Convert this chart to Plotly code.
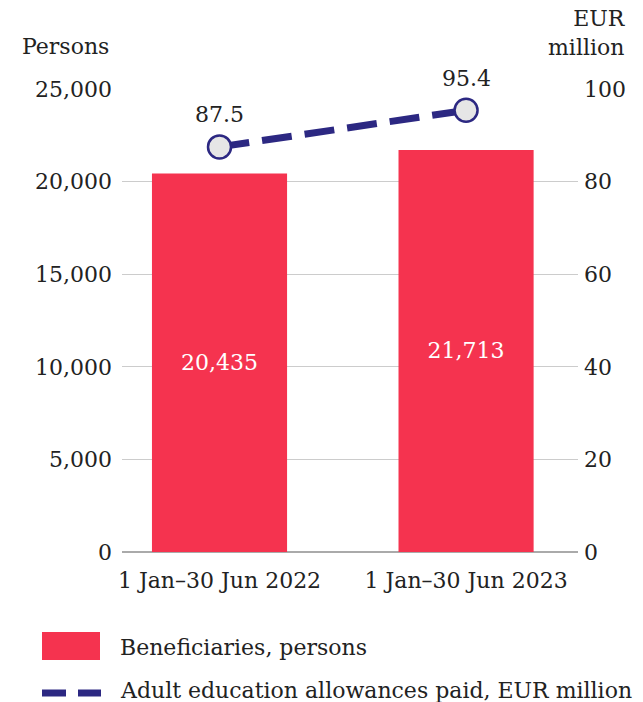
import plotly.graph_objects as go

# Data
periods = ["1 Jan\u201330 Jun 2022", "1 Jan\u201330 Jun 2023"]
beneficiaries = [20435, 21713]
allowances_eur_m = [87.5, 95.4]

bar_name = "Beneficiaries, persons"
line_name = "Adult education allowances paid, EUR million"

RED = "#F5334F"
NAVY = "#2C2882"
TEXT = "#222222"
FONT = "Roboto Slab, DejaVu Serif, serif"
FS = 22

W, H = 643, 702
L, R, T, B = 122, 65, 89, 150
pw, ph = W - L - R, H - T - B


def px_x(x):
    return (x - L) / pw


def px_y(y):
    return (H - B - y) / ph


fig = go.Figure()

fig.add_trace(go.Bar(
    x=periods, y=beneficiaries, name=bar_name,
    marker=dict(color=RED, line=dict(width=0)),
    width=0.548,
    text=[f"{v:,}" for v in beneficiaries],
    textposition="inside", insidetextanchor="middle",
    textfont=dict(color="white", size=FS, family=FONT),
    showlegend=False, yaxis="y",
))

fig.add_trace(go.Scatter(
    x=periods, y=allowances_eur_m, name=line_name, yaxis="y2",
    mode="lines+markers",
    line=dict(color=NAVY, width=7, dash="30px,13px"),
    marker=dict(size=23, color="#E6E6E6", line=dict(color=NAVY, width=2.5)),
    showlegend=False,
))

annotations = []
for p, v in zip(periods, allowances_eur_m):
    annotations.append(dict(
        x=p, y=v, xref="x", yref="y2", text=f"{v:.1f}", showarrow=False,
        yshift=32, bgcolor="white", borderpad=2,
        font=dict(size=FS, color=TEXT, family=FONT),
    ))

annotations += [
    dict(x=px_x(20), y=px_y(47), xref="paper", yref="paper", text="Persons",
         showarrow=False, xanchor="left", yanchor="middle",
         font=dict(size=FS, color=TEXT, family=FONT)),
    dict(x=px_x(628), y=px_y(33), xref="paper", yref="paper", text="EUR<br>million",
         showarrow=False, xanchor="right", yanchor="middle", align="right",
         font=dict(size=FS, color=TEXT, family=FONT)),
    dict(x=px_x(118), y=px_y(647), xref="paper", yref="paper", text=bar_name,
         showarrow=False, xanchor="left", yanchor="middle",
         font=dict(size=FS, color=TEXT, family=FONT)),
    dict(x=px_x(118), y=px_y(690), xref="paper", yref="paper", text=line_name,
         showarrow=False, xanchor="left", yanchor="middle",
         font=dict(size=FS, color=TEXT, family=FONT)),
]

shapes = [
    # legend swatch for the bars
    dict(type="rect", xref="paper", yref="paper",
         x0=px_x(42), x1=px_x(100), y0=px_y(660), y1=px_y(632),
         fillcolor=RED, line=dict(width=0)),
    # legend swatch for the dashed line
    dict(type="line", xref="paper", yref="paper",
         x0=px_x(42), x1=px_x(66), y0=px_y(693), y1=px_y(693),
         line=dict(color=NAVY, width=7)),
    dict(type="line", xref="paper", yref="paper",
         x0=px_x(78), x1=px_x(101), y0=px_y(693), y1=px_y(693),
         line=dict(color=NAVY, width=7)),
]

fig.update_layout(
    width=W, height=H,
    margin=dict(l=L, r=R, t=T, b=B),
    paper_bgcolor="white", plot_bgcolor="white",
    font=dict(family=FONT, size=FS, color=TEXT),
    showlegend=False,
    xaxis=dict(type="category", range=[-0.3955, 1.454], showgrid=False,
               showline=False, ticks="", tickfont=dict(size=FS),
               ticklabelstandoff=13),
    yaxis=dict(range=[0, 25000], tickvals=[0, 5000, 10000, 15000, 20000, 25000],
               tickformat=",", showgrid=True, gridcolor="#CCCCCC", gridwidth=1,
               zeroline=True, zerolinecolor="#AAAAAA", zerolinewidth=2,
               showline=False, ticks="", ticklabelstandoff=9,
               tickfont=dict(size=FS)),
    yaxis2=dict(range=[0, 100], tickvals=[0, 20, 40, 60, 80, 100],
                overlaying="y", side="right", showgrid=False, zeroline=False,
                showline=False, ticks="", ticklabelstandoff=5,
                tickfont=dict(size=FS)),
    annotations=annotations,
    shapes=shapes,
)

fig.write_html("out.html")
